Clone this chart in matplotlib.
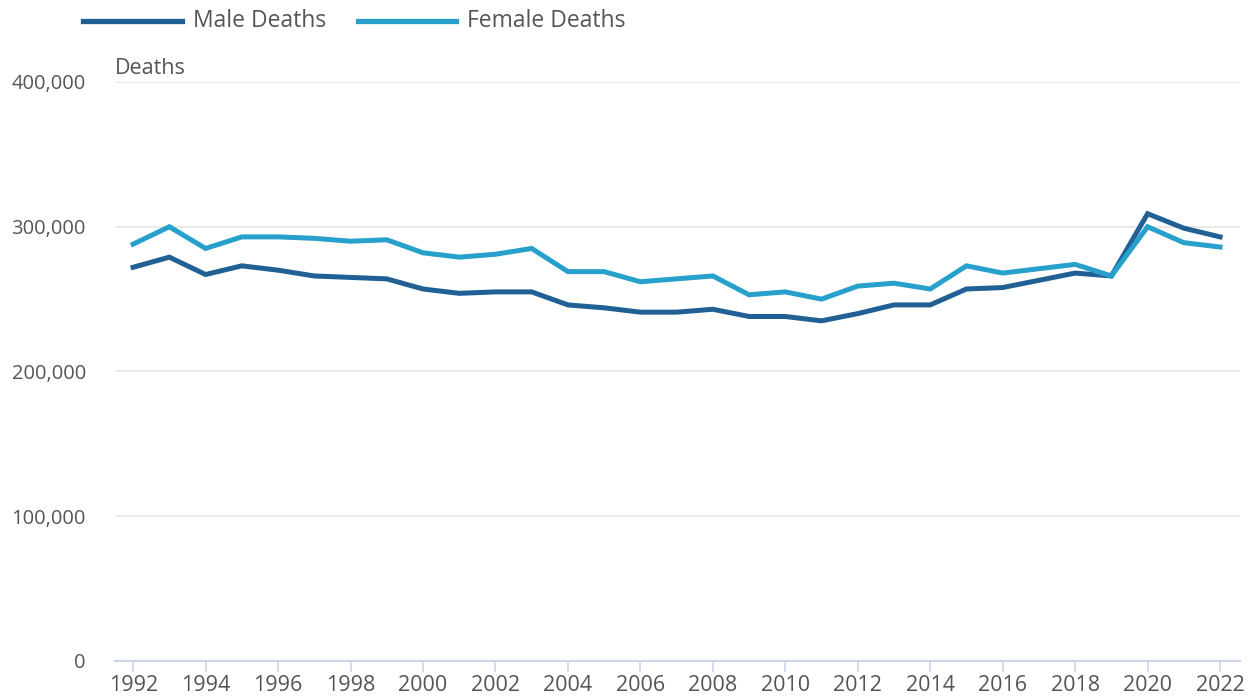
import matplotlib.pyplot as plt
from matplotlib.lines import Line2D
from matplotlib.ticker import FuncFormatter

plt.rcParams['font.family'] = ['Open Sans', 'DejaVu Sans']

years = list(range(1992, 2023))
male_deaths = [272000, 279000, 267000, 273000, 270000, 266000, 265000, 264000,
               257000, 254000, 255000, 255000, 246000, 244000, 241000, 241000,
               243000, 238000, 238000, 235000, 240000, 246000, 246000, 257000,
               258000, 263000, 268000, 266000, 309000, 299000, 293000]
female_deaths = [288000, 300000, 285000, 293000, 293000, 292000, 290000, 291000,
                 282000, 279000, 281000, 285000, 269000, 269000, 262000, 264000,
                 266000, 253000, 255000, 250000, 259000, 261000, 257000, 273000,
                 268000, 271000, 274000, 266000, 300000, 289000, 286000]
y_ticks = [0, 100000, 200000, 300000, 400000]
x_ticks = list(range(1992, 2023, 2))

male_color = '#206095'
female_color = '#27a0cc'
text_color = '#555555'
W, H = 1255, 699

fig = plt.figure(figsize=(12.55, 6.99), dpi=100)
ax = fig.add_axes([115 / W, (H - 661) / H, 1125 / W, 579 / H])

ax.plot(years, male_deaths, color=male_color, lw=3.6, solid_joinstyle='miter', zorder=3)
ax.plot(years, female_deaths, color=female_color, lw=3.6, solid_joinstyle='miter', zorder=3)

ax.set_xlim(1991.5, 2022.55)
ax.set_ylim(0, 400000)
ax.set_yticks(y_ticks)
ax.set_xticks(x_ticks)
ax.yaxis.set_major_formatter(FuncFormatter(lambda v, p: f'{int(v):,}'))
ax.grid(axis='y', color='#e6e6e6', lw=1.2)
ax.set_axisbelow(True)

for s in ['top', 'right', 'left']:
    ax.spines[s].set_visible(False)
ax.spines['bottom'].set_color('#ccd6ea')
ax.spines['bottom'].set_linewidth(1.5)

ax.tick_params(axis='y', length=0, pad=21, labelsize=14.5, labelcolor=text_color)
ax.tick_params(axis='x', length=8, width=1.2, color='#ccd6ea', pad=2,
               labelsize=15.5, labelcolor=text_color)

fig.text(115 / W, 1 - 68 / H, 'Deaths', fontsize=15.5, color=text_color,
         va='center', ha='left')

# legend drawn by hand
for x0, x1, tx, color, label in [(83, 182, 193, male_color, 'Male Deaths'),
                                 (358, 456, 467, female_color, 'Female Deaths')]:
    fig.add_artist(Line2D([x0 / W, x1 / W], [1 - 21 / H, 1 - 21 / H],
                          color=color, lw=3.8, transform=fig.transFigure))
    fig.text(tx / W, 1 - 21 / H, label, fontsize=16.5, color=text_color,
             va='center', ha='left')

fig.savefig('out.png', dpi=100)
